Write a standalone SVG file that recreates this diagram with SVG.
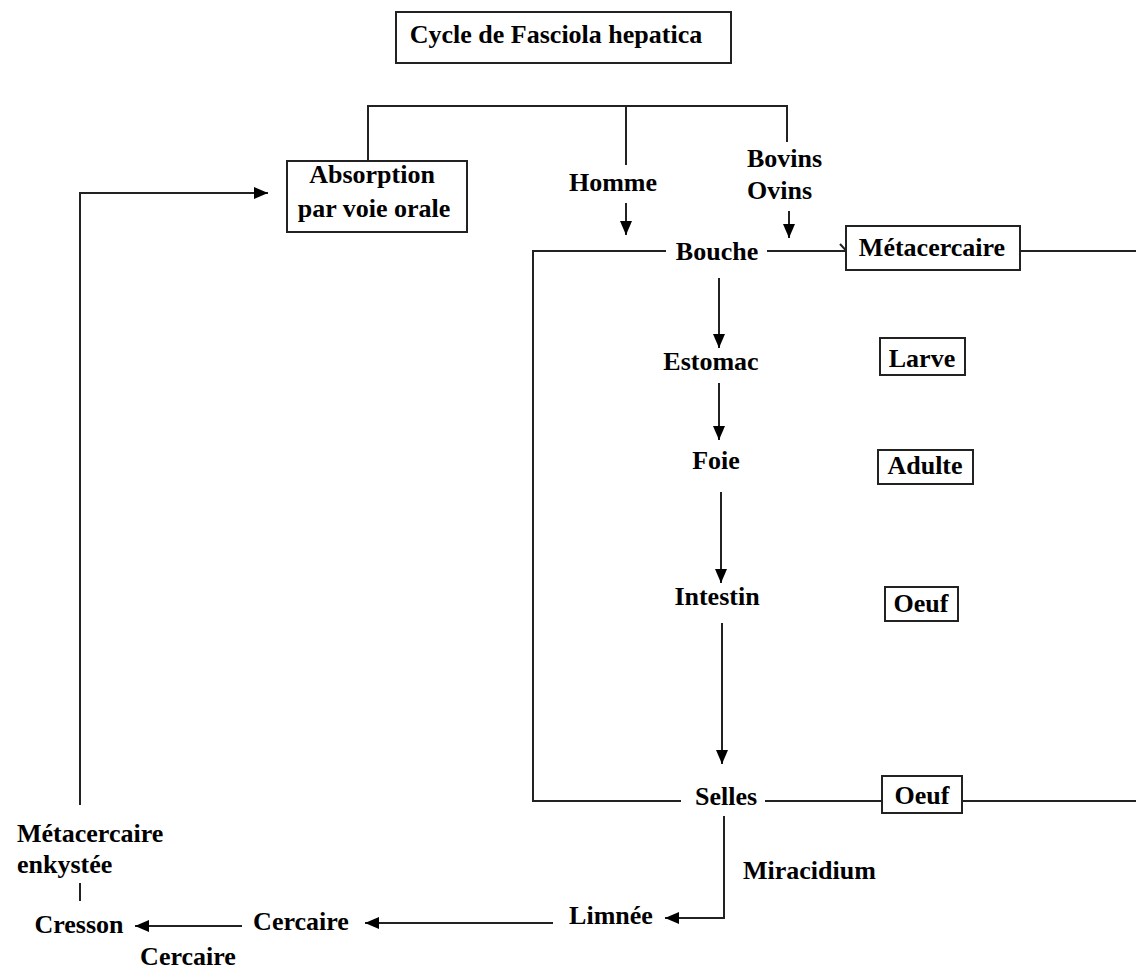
<svg xmlns="http://www.w3.org/2000/svg" width="1136" height="969" viewBox="0 0 1136 969">
<style>
text{font-family:"Liberation Serif","Times New Roman",serif;font-weight:bold;font-size:26px;fill:#000}
.m{text-anchor:middle}
.ln{fill:none;stroke:#222;stroke-width:2}
.bx{fill:#fff;stroke:#222;stroke-width:2}
.ar{marker-end:url(#ah)}
</style>
<defs>
<marker id="ah" markerUnits="userSpaceOnUse" viewBox="0 0 14 12" refX="14" refY="6" markerWidth="14" markerHeight="12" orient="auto">
<path d="M0,0 L14,6 L0,12 Z" fill="#000"/>
</marker>
</defs>
<rect width="1136" height="969" fill="#fff"/>
<g id="connectors">
<path class="ln" d="M368,161 V106 H787 V142"/>
<path class="ln" d="M626,106 V165"/>
<path class="ln ar" d="M626,203 V235"/>
<path class="ln ar" d="M789,211 V238"/>
<path class="ln ar" d="M80,805 V193 H268"/>
<path class="ln" d="M80,883 V901"/>
<path class="ln" d="M666,251 H533 V801 H681"/>
<path class="ln" d="M767,251 H846"/>
<path class="ln" d="M840,244 L853,258"/>
<path class="ln" d="M1020,251 H1136"/>
<path class="ln ar" d="M719,278 V348"/>
<path class="ln ar" d="M719,383 V440"/>
<path class="ln ar" d="M721,492 V583"/>
<path class="ln ar" d="M722,623 V764"/>
<path class="ln" d="M765,801 H882"/>
<path class="ln" d="M962,801 H1136"/>
<path class="ln ar" d="M724,816 V918 H665"/>
<path class="ln ar" d="M553,923 H365"/>
<path class="ln ar" d="M242,926 H135"/>
</g>
<g id="title"><rect class="bx" x="396" y="12" width="335" height="51"/><text class="m" x="556" y="43">Cycle de Fasciola hepatica</text></g>
<g id="absorption"><rect class="bx" x="287" y="161" width="180" height="71"/><text class="m" x="372" y="183">Absorption</text><text class="m" x="374" y="217">par voie orale</text></g>
<g id="homme"><text class="m" x="613" y="191">Homme</text></g>
<g id="bovins"><text x="747" y="167">Bovins</text><text x="747" y="199">Ovins</text></g>
<g id="bouche"><text class="m" x="717" y="260">Bouche</text></g>
<g id="metacercaire"><rect class="bx" x="846" y="226" width="174" height="44"/><text class="m" x="932" y="256">Métacercaire</text></g>
<g id="estomac"><text class="m" x="711" y="370">Estomac</text></g>
<g id="larve"><rect class="bx" x="880" y="338" width="85" height="37"/><text class="m" x="922" y="367">Larve</text></g>
<g id="foie"><text class="m" x="716" y="469">Foie</text></g>
<g id="adulte"><rect class="bx" x="878" y="450" width="95" height="34"/><text class="m" x="925" y="474">Adulte</text></g>
<g id="intestin"><text class="m" x="717" y="605">Intestin</text></g>
<g id="oeuf1"><rect class="bx" x="885" y="587" width="73" height="34"/><text class="m" x="921" y="612">Oeuf</text></g>
<g id="selles"><text class="m" x="726" y="805">Selles</text></g>
<g id="oeuf2"><rect class="bx" x="882" y="776" width="80" height="37"/><text class="m" x="922" y="804">Oeuf</text></g>
<g id="miracidium"><text x="743" y="879">Miracidium</text></g>
<g id="limnee"><text class="m" x="611" y="924">Limnée</text></g>
<g id="cercaire1"><text class="m" x="301" y="930">Cercaire</text></g>
<g id="cresson"><text class="m" x="79" y="933">Cresson</text></g>
<g id="cercaire2"><text class="m" x="188" y="965">Cercaire</text></g>
<g id="metacercaire-enkystee"><text x="17" y="842">Métacercaire</text><text x="17" y="873">enkystée</text></g>
</svg>
